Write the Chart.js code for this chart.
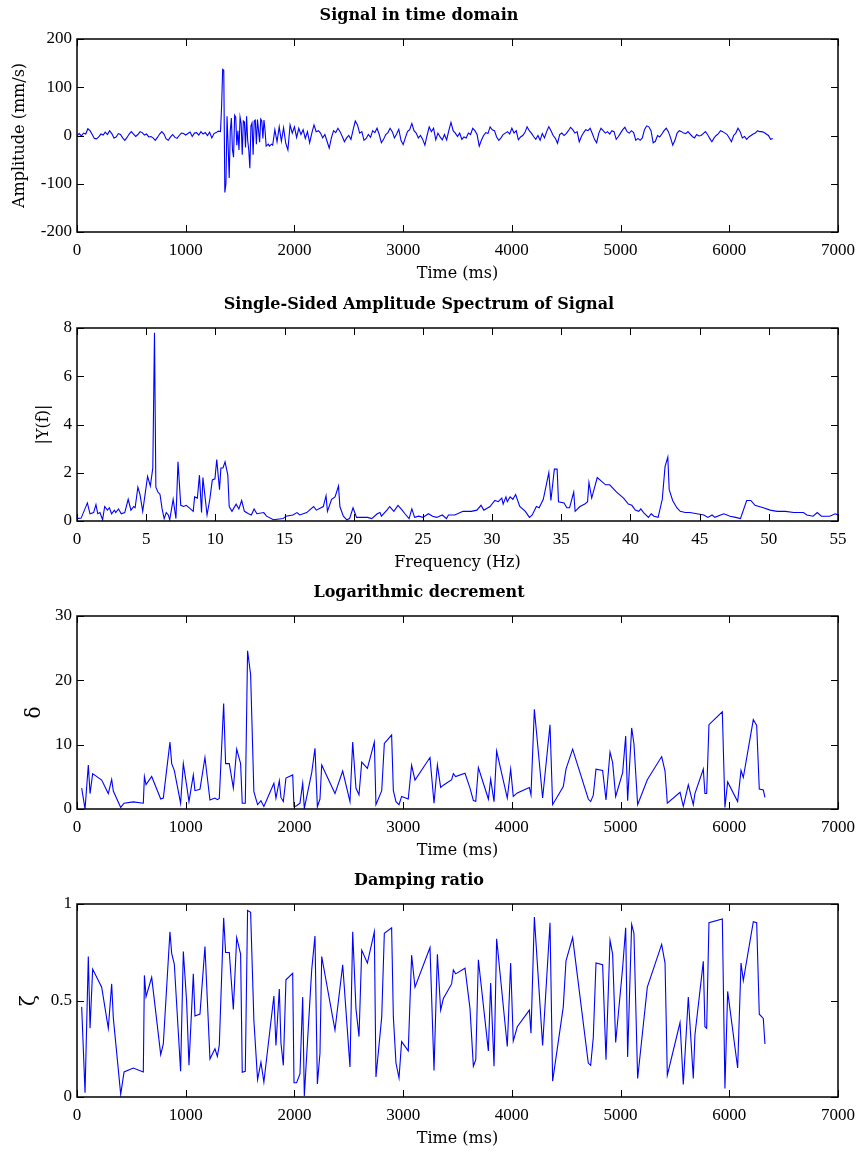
<!DOCTYPE html>
<html>
<head>
<meta charset="utf-8">
<title>Signal analysis</title>
<script src="https://cdn.jsdelivr.net/npm/chart.js@4.4.1/dist/chart.umd.min.js"></script>
<style>
  html, body { margin: 0; padding: 0; background: #fff; }
  #wrap { position: relative; width: 860px; height: 1155px; }
  .panel { position: absolute; left: 0; width: 860px; height: 290px; }
  canvas { display: block; }
</style>
</head>
<body>
<div id="wrap">
  <div class="panel" style="top:0px"><canvas id="cSignal" width="860" height="290"></canvas></div>
  <div class="panel" style="top:289px"><canvas id="cSpectrum" width="860" height="290"></canvas></div>
  <div class="panel" style="top:577px"><canvas id="cDecrement" width="860" height="290"></canvas></div>
  <div class="panel" style="top:865px"><canvas id="cDamping" width="860" height="290"></canvas></div>
</div>
<script>
// ---------- Signal in time domain (velocity, mm/s) ----------
// Quiet record before the event, 0-1300 ms every 20 ms
const PRE_START_MS = 0, PRE_DT_MS = 20;
const preEventAmp = [
  0, 4, -1, 5, 3, 14, 10, 2, -6, -7,
  -3, 3, 1, 7, 2, 10, 4, -5, -3, 4,
  2, -5, -10, -4, 3, 8, 3, -2, 2, 8,
  6, 1, 3, -3, -2, -5, -10, -4, 3, 8,
  3, -7, -10, -3, 2, -4, -6, 0, 5, 4,
  1, 4, 7, -2, 5, 6, 1, 8, 3, 6,
  0, 7, -5, 4, 6, 9
];
// Impact burst, 1320-1800 ms every 10 ms
const BURST_START_MS = 1320, BURST_DT_MS = 10;
const burstAmp = [
  8, 60, 137, 135, -118, -100, 40, -20, -88, 10,
  36, -30, -45, 42, 38, -20, 10, -30, 38, 25,
  -40, 30, 28, -25, 40, -10, -30, -68, 20, 26,
  -40, 30, 32, -18, 33, 10, -14, 34, 30, -6,
  32, 10, -22, -20, -18, -22, -20, -18, -20
];
// Free vibration after the burst, 1820-6400 ms every 20 ms
const POST_START_MS = 1820, POST_DT_MS = 20;
const postEventAmp = [
  12, -13, 18, -12, 16, -16, -30, 22, 5,
  18, -4, 15, 2, 12, -6, 8, -15, 5, 22,
  8, 10, 5, -5, 2, -12, -26, -5, 10, 6,
  15, 8, -2, -13, -5, 0, -8, 12, 30, 22,
  5, 8, -10, -6, 2, -4, 10, 6, 15, 2,
  -15, -8, 2, 6, 15, 8, -5, 3, 13, -10,
  -19, -5, 8, 12, 25, 10, 5, -5, 0, -8,
  -20, 0, 18, 8, 15, -9, 5, -3, -9, 2,
  -9, 10, 27, 10, 5, -2, 5, -8, -3, -5,
  5, 2, 15, 10, 2, -22, -10, 0, 6, 4,
  18, 12, 10, -3, -10, -5, 2, 5, 8, 3,
  15, 5, 10, -9, -3, 0, 6, 18, 10, 5,
  -2, -8, 0, -10, 4, -5, 8, 18, 10, 0,
  -6, -16, 2, 5, 0, 4, 10, 17, 12, 5,
  8, -13, -2, 6, 12, 10, 15, 4, -8, -15,
  5, 15, 10, 5, 8, 3, 10, 8, -8, -2,
  5, 12, 17, 8, 5, 10, 6, -10, -6, -10,
  -5, 12, 20, 18, 10, -15, -12, 0, -3, 3,
  10, 15, 8, -5, -20, -10, 5, 10, 8, 5,
  4, 8, 3, -2, -5, 2, -1, 0, 4, 8,
  2, -6, -13, -5, 0, 4, 10, 8, 5, 2,
  -5, -13, 0, 5, 15, 8, -5, -2, -8, -3,
  0, 3, 5, 10, 8, 8, 6, 3, 0, -8,
  -6
];

// ---------- Single-sided amplitude spectrum ----------
const specFreq = [
  0, 0.3, 0.75, 0.94, 1.2, 1.37, 1.5, 1.66, 1.85, 2.0,
  2.2, 2.34, 2.5, 2.7, 2.8, 3.0, 3.2, 3.45, 3.7, 3.9,
  4.1, 4.2, 4.4, 4.55, 4.75, 5.1, 5.3, 5.48, 5.6, 5.7,
  5.85, 6.0, 6.15, 6.3, 6.45, 6.6, 6.7, 6.95, 7.15, 7.3,
  7.5, 7.7, 7.9, 8.2, 8.4, 8.5, 8.7, 8.85, 9.0, 9.1,
  9.4, 9.6, 9.78, 9.97, 10.1, 10.3, 10.4, 10.55, 10.7, 10.9,
  11.0, 11.2, 11.5, 11.7, 11.9, 12.1, 12.4, 12.6, 12.8, 13.0,
  13.5, 13.7, 14.2, 14.9, 15.1, 15.6, 15.9, 16.1, 16.6, 17.1,
  17.3, 17.8, 18.0, 18.1, 18.4, 18.65, 18.9, 19.0, 19.25, 19.5,
  19.7, 19.95, 20.2, 20.5, 21.0, 21.3, 21.7, 21.9, 22.0, 22.4,
  22.6, 22.9, 23.2, 23.5, 23.7, 24.0, 24.2, 24.4, 24.7, 25.0,
  25.4, 25.7, 26.0, 26.4, 26.7, 26.85, 27.3, 27.9, 28.5, 28.9,
  29.2, 29.4, 29.85, 30.2, 30.45, 30.7, 30.8, 31.0, 31.1, 31.3,
  31.5, 31.7, 32.0, 32.4, 32.7, 32.9, 33.2, 33.4, 33.7, 34.1,
  34.25, 34.5, 34.7, 34.8, 35.2, 35.4, 35.6, 35.9, 36.0, 36.35,
  36.7, 36.9, 37.0, 37.2, 37.6, 38.2, 38.5, 39.0, 39.5, 39.85,
  40.1, 40.35, 40.6, 40.75, 40.95, 41.3, 41.5, 41.7, 42.0, 42.3,
  42.5, 42.7, 42.8, 43.05, 43.35, 43.6, 43.95, 44.3, 44.8, 45.3,
  45.6, 45.9, 46.1, 46.75, 47.2, 47.6, 47.95, 48.4, 48.7, 49.0,
  49.6, 50.1, 50.6, 51.2, 51.8, 52.5, 52.75, 53.2, 53.5, 53.8,
  54.4, 54.8, 55.0
];
const specAmp = [
  0.1, 0.12, 0.75, 0.3, 0.35, 0.68, 0.3, 0.35, 0.05, 0.6,
  0.45, 0.55, 0.3, 0.45, 0.35, 0.5, 0.3, 0.35, 0.9, 0.45,
  0.6, 0.55, 1.4, 1.1, 0.4, 1.85, 1.45, 2.2, 7.8, 1.4,
  1.2, 1.1, 0.5, 0.1, 0.35, 0.25, 0.05, 0.9, 0.1, 2.45,
  0.65, 0.6, 0.65, 0.5, 0.4, 1.0, 0.95, 1.9, 0.35, 1.8,
  0.25, 0.9, 1.7, 1.75, 2.55, 1.3, 2.2, 2.2, 2.45, 1.9,
  0.6, 0.4, 0.7, 0.5, 0.85, 0.4, 0.3, 0.25, 0.5, 0.3,
  0.35, 0.2, 0.05, 0.1, 0.2, 0.25, 0.35, 0.25, 0.35, 0.6,
  0.45, 0.6, 1.05, 0.4, 0.9, 1.0, 1.45, 0.6, 0.2, 0.05,
  0.1, 0.55, 0.15, 0.15, 0.15, 0.1, 0.3, 0.35, 0.2, 0.45,
  0.6, 0.4, 0.65, 0.45, 0.3, 0.1, 0.5, 0.15, 0.2, 0.15,
  0.3, 0.2, 0.15, 0.25, 0.1, 0.25, 0.25, 0.4, 0.4, 0.45,
  0.65, 0.45, 0.6, 0.85, 0.8, 0.95, 0.7, 1.0, 0.8, 1.0,
  0.9, 1.1, 0.6, 0.4, 0.15, 0.25, 0.6, 0.55, 0.9, 2.0,
  0.85, 2.15, 2.15, 0.8, 0.75, 0.55, 0.55, 1.2, 0.4, 0.6,
  0.7, 0.8, 1.6, 0.95, 1.8, 1.5, 1.5, 1.2, 0.95, 0.7,
  0.65, 0.45, 0.4, 0.5, 0.35, 0.15, 0.3, 0.2, 0.15, 0.9,
  2.25, 2.65, 1.3, 0.85, 0.55, 0.4, 0.35, 0.35, 0.3, 0.25,
  0.15, 0.25, 0.15, 0.3, 0.2, 0.15, 0.1, 0.85, 0.85, 0.65,
  0.55, 0.45, 0.4, 0.4, 0.35, 0.35, 0.25, 0.2, 0.35, 0.2,
  0.2, 0.3, 0.25
];

// ---------- Peak-to-peak estimates: times (ms), log decrement, damping ratio ----------
const decTime = [
  43, 74, 104, 120, 144, 227, 288, 319, 334, 402,
  433, 518, 610, 620, 635, 687, 770, 794, 855, 871,
  895, 953, 978, 1008, 1030, 1070, 1085, 1131, 1177, 1223,
  1269, 1291, 1309, 1349, 1367, 1401, 1438, 1469, 1505, 1520,
  1548, 1569, 1597, 1627, 1661, 1692, 1719, 1811, 1830, 1861,
  1876, 1898, 1922, 1984, 1996, 2020, 2051, 2076, 2091, 2159,
  2189, 2211, 2235, 2251, 2373, 2444, 2511, 2536, 2566, 2594,
  2619, 2671, 2735, 2750, 2803, 2827, 2894, 2910, 2934, 2962,
  2986, 3047, 3078, 3109, 3247, 3284, 3315, 3345, 3370, 3446,
  3462, 3483, 3569, 3615, 3646, 3668, 3692, 3784, 3805, 3836,
  3860, 3958, 3989, 4013, 4050, 4161, 4176, 4207, 4283, 4351,
  4375, 4473, 4498, 4559, 4703, 4725, 4749, 4774, 4835, 4866,
  4903, 4927, 4955, 5019, 5047, 5065, 5102, 5123, 5157, 5246,
  5378, 5409, 5430, 5547, 5577, 5623, 5669, 5684, 5761, 5776,
  5792, 5813, 5936, 5960, 5985, 6077, 6108, 6129, 6221, 6252,
  6276, 6313, 6328
];
const logDecrement = [
  3.25, 0, 6.85, 2.4, 5.5, 4.5, 2.4, 4.6, 2.8, 0.25,
  0.9, 1.1, 0.9, 5.05, 3.8, 5.05, 1.55, 1.7, 10.4, 7.05,
  6.0, 0.9, 7.05, 3.7, 1.15, 5.3, 2.85, 3.05, 8.0, 1.4,
  1.7, 1.45, 1.65, 16.4, 7.05, 7.05, 3.25, 9.3, 7.05, 0.9,
  0.9, 24.6, 20.9, 2.7, 0.67, 1.3, 0.4, 4.0, 1.7, 4.4,
  1.8, 1.15, 4.8, 5.3, 0.35, 0.5, 0.9, 4.0, 0.1, 5.65,
  9.45, 0.35, 1.55, 6.85, 2.4, 5.9, 1.15, 10.4, 3.25, 2.2,
  7.3, 6.3, 10.4, 0.67, 2.85, 10.2, 11.5, 2.85, 1.15, 0.67,
  1.95, 1.55, 6.8, 4.5, 8.0, 0.9, 6.85, 3.35, 3.7, 4.55,
  5.5, 5.05, 5.55, 3.25, 1.3, 1.2, 6.45, 1.55, 4.65, 1.15,
  9.0, 1.7, 6.2, 1.95, 2.5, 3.35, 2.2, 15.5, 1.7, 13.1,
  0.67, 3.5, 6.2, 9.3, 1.55, 1.15, 2.15, 6.2, 6.0, 1.4,
  8.85, 7.2, 1.95, 5.65, 11.35, 1.3, 12.6, 10.15, 0.67, 4.55,
  8.15, 5.9, 0.9, 2.6, 0.4, 3.75, 0.67, 2.4, 6.2, 2.4,
  2.4, 13.1, 15.1, 0.25, 4.2, 1.15, 6.0, 4.9, 13.9, 13.0,
  3.1, 2.95, 1.8
];
const dampingRatio = [
  0.467, 0.022, 0.728, 0.356, 0.663, 0.569, 0.356, 0.586, 0.41, 0.014,
  0.13, 0.15, 0.13, 0.63, 0.52, 0.62, 0.22, 0.275, 0.856, 0.744,
  0.689, 0.133, 0.754, 0.5, 0.164, 0.638, 0.42, 0.43, 0.78, 0.197,
  0.25, 0.21, 0.27, 0.928, 0.749, 0.749, 0.453, 0.826, 0.74, 0.128,
  0.133, 0.966, 0.957, 0.398, 0.09, 0.18, 0.077, 0.523, 0.267, 0.56,
  0.28, 0.164, 0.607, 0.641, 0.074, 0.074, 0.12, 0.518, 0.005, 0.66,
  0.834, 0.068, 0.227, 0.728, 0.347, 0.685, 0.156, 0.856, 0.458, 0.313,
  0.761, 0.694, 0.856, 0.104, 0.415, 0.848, 0.877, 0.415, 0.176, 0.099,
  0.287, 0.239, 0.735, 0.569, 0.774, 0.137, 0.74, 0.45, 0.51, 0.586,
  0.658, 0.638, 0.667, 0.458, 0.159, 0.193, 0.711, 0.239, 0.591, 0.159,
  0.82, 0.262, 0.694, 0.29, 0.364, 0.45, 0.33, 0.932, 0.267, 0.903,
  0.082, 0.467, 0.706, 0.826, 0.176, 0.164, 0.308, 0.694, 0.685, 0.193,
  0.812, 0.74, 0.282, 0.67, 0.877, 0.207, 0.894, 0.848, 0.096, 0.569,
  0.791, 0.694, 0.113, 0.386, 0.065, 0.518, 0.096, 0.321, 0.703, 0.364,
  0.356, 0.903, 0.923, 0.044, 0.547, 0.15, 0.694, 0.603, 0.908, 0.903,
  0.429, 0.407, 0.275
];

// ---------- Tick values and their labels ----------
const timeTicks = [0, 1000, 2000, 3000, 4000, 5000, 6000, 7000];
const timeTickLabels = ['0', '1000', '2000', '3000', '4000', '5000', '6000', '7000'];
const freqTicks = [0, 5, 10, 15, 20, 25, 30, 35, 40, 45, 50, 55];
const freqTickLabels = ['0', '5', '10', '15', '20', '25', '30', '35', '40', '45', '50', '55'];
const ampTicks = [-200, -100, 0, 100, 200];
const ampTickLabels = ['-200', '-100', '0', '100', '200'];
const specTicks = [0, 2, 4, 6, 8];
const specTickLabels = ['0', '2', '4', '6', '8'];
const decTicks = [0, 10, 20, 30];
const decTickLabels = ['0', '10', '20', '30'];
const dampTicks = [0, 0.5, 1];
const dampTickLabels = ['0', '0.5', '1'];

// ---------- Shared styling ----------
const LINE_BLUE = '#0000ff';
const FONT_TICK = { family: '"Liberation Serif", "Times New Roman", serif', size: 17 };
const FONT_LABEL = { family: '"DejaVu Serif", serif', size: 16 };
const FONT_GREEK = { family: '"DejaVu Serif", serif', size: 20 };
const FONT_TITLE = { family: '"DejaVu Serif", serif', size: 16, weight: 'bold' };
const TICK_LEN = 7;

// Join uniformly sampled segments into one {x, y} series
function sampledSegment(startMs, dtMs, values) {
  return values.map((v, i) => ({ x: startMs + i * dtMs, y: v }));
}
const signalPoints = [
  ...sampledSegment(PRE_START_MS, PRE_DT_MS, preEventAmp),
  ...sampledSegment(BURST_START_MS, BURST_DT_MS, burstAmp),
  ...sampledSegment(POST_START_MS, POST_DT_MS, postEventAmp)
];

function zip(xs, ys) {
  return xs.map((v, i) => ({ x: v, y: ys[i] }));
}

// Axes box with inward tick marks on all four sides
const axesBox = {
  id: 'axesBox',
  afterDatasetsDraw(chart) {
    const { ctx, chartArea: a, scales: { x, y } } = chart;
    ctx.save();
    ctx.strokeStyle = '#000';
    ctx.lineWidth = 1;
    ctx.beginPath();
    x.ticks.forEach(t => {
      const px = Math.round(x.getPixelForValue(t.value)) + 0.5;
      ctx.moveTo(px, a.bottom); ctx.lineTo(px, a.bottom - TICK_LEN);
      ctx.moveTo(px, a.top); ctx.lineTo(px, a.top + TICK_LEN);
    });
    y.ticks.forEach(t => {
      const py = Math.round(y.getPixelForValue(t.value)) + 0.5;
      ctx.moveTo(a.left, py); ctx.lineTo(a.left + TICK_LEN, py);
      ctx.moveTo(a.right, py); ctx.lineTo(a.right - TICK_LEN, py);
    });
    ctx.stroke();
    ctx.lineWidth = 1.5;
    ctx.strokeRect(a.left, a.top, a.right - a.left, a.bottom - a.top);
    ctx.restore();
  }
};

function makePanel(canvasId, p) {
  return new Chart(document.getElementById(canvasId), {
    type: 'line',
    data: {
      datasets: [{
        data: p.points,
        borderColor: LINE_BLUE,
        borderWidth: 1.1,
        pointRadius: 0,
        fill: false,
        tension: 0
      }]
    },
    options: {
      responsive: false,
      animation: false,
      devicePixelRatio: 1,
      layout: { padding: { left: 0, right: 22, top: 0, bottom: 0 } },
      plugins: {
        legend: { display: false },
        tooltip: { enabled: false },
        title: {
          display: true,
          text: p.title,
          color: '#000',
          font: FONT_TITLE,
          padding: { top: 6, bottom: 13.8 }
        }
      },
      scales: {
        x: {
          type: 'linear',
          min: p.xTicks[0],
          max: p.xTicks[p.xTicks.length - 1],
          grid: { display: false, drawTicks: false },
          border: { display: false },
          afterBuildTicks: s => { s.ticks = p.xTicks.map(v => ({ value: v })); },
          afterFit: s => { s.height = 58; s.paddingLeft = 0; s.paddingRight = 0; },
          ticks: {
            color: '#000', font: FONT_TICK, padding: 8,
            maxRotation: 0, autoSkip: false,
            callback: (v, i) => p.xTickLabels[i]
          },
          title: {
            display: true, text: p.xTitle, color: '#000', font: FONT_LABEL,
            padding: { top: 0, bottom: 7 }
          }
        },
        y: {
          type: 'linear',
          min: p.yTicks[0],
          max: p.yTicks[p.yTicks.length - 1],
          grid: { display: false, drawTicks: false },
          border: { display: false },
          afterBuildTicks: s => { s.ticks = p.yTicks.map(v => ({ value: v })); },
          afterFit: s => { s.width = 77; s.paddingTop = 0; s.paddingBottom = 0; },
          ticks: {
            color: '#000', font: FONT_TICK, padding: 5,
            autoSkip: false,
            callback: (v, i) => p.yTickLabels[i]
          },
          title: {
            display: true, text: p.yTitle, color: '#000', font: p.yFont || FONT_LABEL,
            padding: { top: p.yTitlePad, bottom: 0 }
          }
        }
      }
    },
    plugins: [axesBox]
  });
}

makePanel('cSignal', {
  title: 'Signal in time domain',
  points: signalPoints,
  xTicks: timeTicks, xTickLabels: timeTickLabels, xTitle: 'Time (ms)',
  yTicks: ampTicks, yTickLabels: ampTickLabels, yTitle: 'Amplitude (mm/s)', yTitlePad: 10
});

makePanel('cSpectrum', {
  title: 'Single-Sided Amplitude Spectrum of Signal',
  points: zip(specFreq, specAmp),
  xTicks: freqTicks, xTickLabels: freqTickLabels, xTitle: 'Frequency (Hz)',
  yTicks: specTicks, yTickLabels: specTickLabels, yTitle: '|Y(f)|', yTitlePad: 34
});

makePanel('cDecrement', {
  title: 'Logarithmic decrement',
  points: zip(decTime, logDecrement),
  xTicks: timeTicks, xTickLabels: timeTickLabels, xTitle: 'Time (ms)',
  yTicks: decTicks, yTickLabels: decTickLabels, yTitle: 'δ', yFont: FONT_GREEK, yTitlePad: 23
});

makePanel('cDamping', {
  title: 'Damping ratio',
  points: zip(decTime, dampingRatio),
  xTicks: timeTicks, xTickLabels: timeTickLabels, xTitle: 'Time (ms)',
  yTicks: dampTicks, yTickLabels: dampTickLabels, yTitle: 'ζ', yFont: FONT_GREEK, yTitlePad: 18
});
</script>
</body>
</html>
